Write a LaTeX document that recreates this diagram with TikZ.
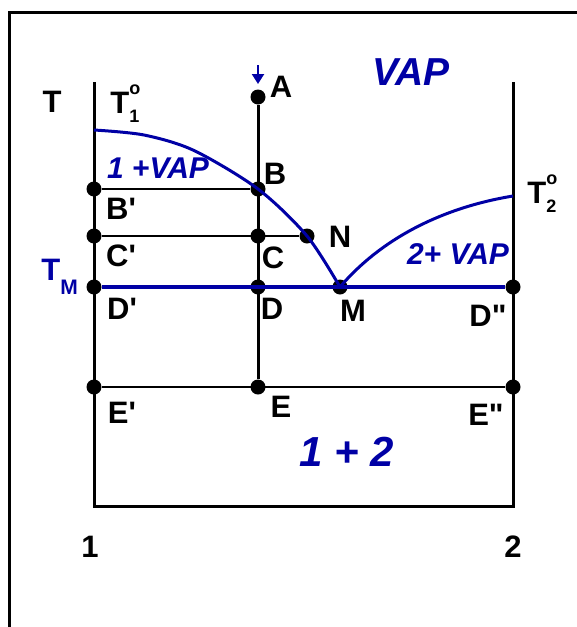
\documentclass[tikz,border=0pt]{standalone}
\usepackage{fontspec}
\newfontfamily\lblfont{Liberation Sans}
\usetikzlibrary{arrows.meta,positioning,calc}
\definecolor{phaseblue}{RGB}{0,0,165}
\newcommand\supsub[2]{\rlap{\raisebox{0.6em}{\fontsize{9}{9}\selectfont#1}}\raisebox{-0.3em}{\fontsize{9}{9}\selectfont#2}}

\begin{document}
\begin{tikzpicture}[x=0.5pt,y=-0.5pt,
  lbl/.style={font=\lblfont\fontsize{15.5}{18}\selectfont\bfseries,inner sep=0pt},
  region/.style={font=\lblfont\fontsize{15}{18}\selectfont\bfseries\itshape,text=phaseblue,inner sep=0pt},
  dot/.style={circle,fill,inner sep=0pt,minimum size=7.5pt},
  axis/.style={line width=1.5pt},
  tie/.style={line width=1.3pt},
  liq/.style={line width=1.5pt,draw=phaseblue}]
\useasboundingbox (0,0) rectangle (577,627);
% frame
\draw[line width=1.5pt] (9,640) -- (9,12) -- (590,12);
% axes of the diagram
\coordinate (ltop) at (94,82);
\coordinate (lbot) at (94,506);
\coordinate (rbot) at (513,506);
\coordinate (rtop) at (513,82);
\draw[axis] (ltop) -- (lbot) -- (rbot) -- (rtop);
% points
\coordinate (t1) at (94,130);
\coordinate (t2) at (513,196);
\node[dot] (a) at (258,97) {};
\node[dot] (b) at (258,189) {};
\node[dot] (bp) at (94,189) {};
\node[dot] (cp) at (94,236) {};
\node[dot] (c) at (258,236) {};
\node[dot] (n) at (307,236) {};
\node[dot] (dp) at (94,287) {};
\node[dot] (d) at (258,287) {};
\node[dot] (m) at (340,287) {};
\node[dot] (dpp) at (513,287) {};
\node[dot] (ep) at (94,387) {};
\node[dot] (e) at (258,387) {};
\node[dot] (epp) at (513,387) {};
% lines
\draw[axis] (a) -- (e);
\draw[tie] (bp) -- (b);
\draw[tie] (cp) -- (n);
\draw[tie] (ep) -- (epp);
\draw[liq,line width=2pt] (dp) -- (dpp);
\draw[liq] plot[smooth,tension=0.5] coordinates {(t1) (144,135) (194,150.5) (b.center) (n.center) (m.center)};
\draw[liq] (m.center) .. controls (380,240) and (440,208) .. (t2);
% arrow above A
\coordinate (arrtop) at (258,65);
\coordinate (arrtip) at (258,84);
\draw[phaseblue,line width=1.1pt,-{Triangle[length=5pt,width=6pt]}] (arrtop) -- (arrtip);
% labels
\node[lbl] (tlab) at (52,102) {T};
\node[lbl,anchor=west] (t1lab) at (110,104) {T\supsub{o}{1}};
\node[lbl] (alab) at (281,87) {A};
\node[lbl] (blab) at (275,174) {B};
\node[lbl] (bplab) at (121,209) {B'};
\node[lbl] (cplab) at (121,256) {C'};
\node[lbl] (clab) at (273,258) {C};
\node[lbl] (nlab) at (340,237) {N};
\node[lbl,text=phaseblue,anchor=west] (tmlab) at (41,277) {T\raisebox{-0.45em}{\fontsize{10.5}{11}\selectfont M}};
\node[lbl] (dplab) at (122,309) {D'};
\node[lbl] (dlab) at (272,309) {D};
\node[lbl] (mlab) at (353,311) {M};
\node[lbl] (dpplab) at (488,316) {D"};
\node[lbl,anchor=west] (t2lab) at (527,194) {T\supsub{o}{2}};
\node[lbl] (eplab) at (122,413) {E'};
\node[lbl] (elab) at (281,407) {E};
\node[lbl] (epplab) at (486,415) {E"};
\node[lbl] (one) at (90,547) {1};
\node[lbl] (two) at (513,547) {2};
\node[region] (vap) at (411,72) {\fontsize{19.5}{22}\selectfont VAP};
\node[region] (onevap) at (158,168) {1 +VAP};
\node[region] (twovap) at (458,254) {2+ VAP};
\node[region] (onetwo) at (347,452) {\fontsize{21}{24}\selectfont 1 + 2};
\end{tikzpicture}
\end{document}
